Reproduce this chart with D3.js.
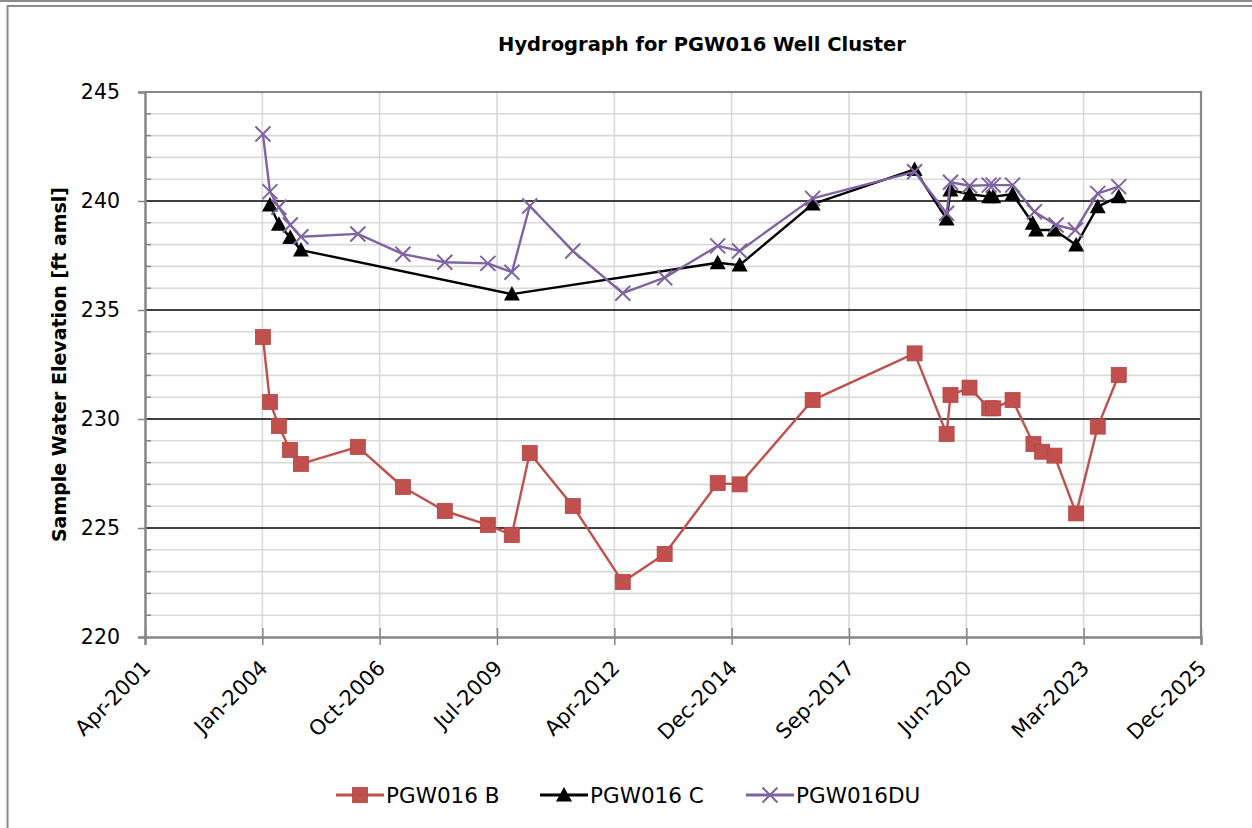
<!DOCTYPE html>
<html>
<head>
<meta charset="utf-8">
<script src="https://cdn.jsdelivr.net/npm/d3@7"></script>
<style>
  html, body { margin: 0; padding: 0; background: #fff; }
  svg { display: block; }
  text { font-family: "DejaVu Sans", "Liberation Sans", sans-serif; fill: #000; }
</style>
</head>
<body>
<svg id="chart" width="1252" height="828"></svg>
<script>
// ---- Data: sample water elevations (ft amsl) by sampling date ----
const bDates = ["2004-01-19","2004-03-19","2004-06-03","2004-09-05","2004-12-08","2006-04-07","2007-04-26",
  "2008-04-17","2009-04-19","2009-11-09","2010-04-11","2011-04-13","2012-06-12","2013-06-04","2014-08-30",
  "2015-03-05","2016-11-16","2019-04-04","2020-01-02","2020-02-04","2020-07-15","2020-12-30","2021-02-02",
  "2021-07-17","2022-01-11","2022-03-26","2022-07-09","2023-01-10","2023-07-13","2024-01-08"];
const bLevels = [233.76,230.78,229.68,228.58,227.94,228.72,226.88,
  225.78,225.14,224.68,228.44,226.01,222.52,223.81,227.06,
  227.0,230.87,233.01,229.31,231.1,231.44,230.49,230.49,
  230.87,228.85,228.5,228.32,225.67,229.65,232.02];

const cDates = ["2004-03-19","2004-06-03","2004-09-08","2004-12-08","2009-11-10","2014-08-30","2015-03-05",
  "2016-11-16","2019-04-04","2020-01-02","2020-02-04","2020-07-15","2020-12-30","2021-02-02","2021-07-17",
  "2022-01-05","2022-02-03","2022-07-09","2023-01-10","2023-07-13","2024-01-08"];
const cLevels = [239.82,238.93,238.32,237.75,235.73,237.17,237.06,
  239.86,241.45,239.17,240.5,240.31,240.2,240.2,240.31,
  238.98,238.67,238.67,237.98,239.74,240.2];

const duDates = ["2004-01-19","2004-03-19","2004-06-03","2004-09-08","2004-12-08","2006-04-07","2007-04-26",
  "2008-04-17","2009-04-19","2009-11-10","2010-04-11","2011-04-13","2012-06-12","2013-06-04","2014-08-30",
  "2015-03-05","2016-11-16","2019-04-04","2020-01-02","2020-02-04","2020-07-15","2020-12-30","2021-02-02",
  "2021-07-17","2022-01-19","2022-07-23","2023-01-04","2023-07-13","2024-01-08"];
const duLevels = [243.07,240.43,239.71,238.9,238.36,238.49,237.56,
  237.19,237.14,236.73,239.77,237.71,235.77,236.48,237.94,
  237.71,240.12,241.34,239.44,240.86,240.7,240.73,240.73,
  240.73,239.51,238.9,238.67,240.35,240.66];

const seriesNames = ["PGW016 B", "PGW016 C", "PGW016DU"];

// Date axis ticks every 1000 days
const xTickDates = ["2001-04-19","2004-01-14","2006-10-10","2009-07-06","2012-04-01",
  "2014-12-27","2017-09-22","2020-06-18","2023-03-15","2025-12-09"];
const yMajorTicks = [220, 225, 230, 235, 240, 245];
const yMinorTicks = d3.range(221, 245).filter(v => v % 5 !== 0);

const titleText = "Hydrograph for PGW016 Well Cluster";
const yAxisTitle = "Sample Water Elevation [ft amsl]";

// ---- Layout ----
const W = 1252, H = 828;
const plot = { left: 145, right: 1201, top: 92, bottom: 637 };
const parse = d3.utcParse("%Y-%m-%d");
const tickDates = xTickDates.map(parse);

const x = d3.scaleUtc()
  .domain([tickDates[0], tickDates[tickDates.length - 1]])
  .range([plot.left, plot.right]);
const y = d3.scaleLinear().domain([220, 245]).range([plot.bottom, plot.top]);

const svg = d3.select("#chart");
svg.append("rect").attr("width", W).attr("height", H).attr("fill", "#fff");

// outer frame
svg.append("line").attr("x1", 0).attr("x2", W).attr("y1", 1).attr("y2", 1)
  .attr("stroke", "#8c8c8c").attr("stroke-width", 2);
svg.append("path").attr("d", `M7.5,${H} V6 H${W}`)
  .attr("fill", "none").attr("stroke", "#8c8c8c").attr("stroke-width", 2);

// ---- Gridlines ----
const grid = svg.append("g");
grid.selectAll("line.minor").data(yMinorTicks).join("line")
  .attr("x1", plot.left).attr("x2", plot.right)
  .attr("y1", d => y(d)).attr("y2", d => y(d))
  .attr("stroke", "#d9d9d9").attr("stroke-width", 1.6);
grid.selectAll("line.vert").data(tickDates.slice(1, -1)).join("line")
  .attr("x1", d => x(d)).attr("x2", d => x(d))
  .attr("y1", plot.top).attr("y2", plot.bottom)
  .attr("stroke", "#d9d9d9").attr("stroke-width", 1.6);
grid.selectAll("line.major").data(yMajorTicks.slice(1, -1)).join("line")
  .attr("x1", plot.left).attr("x2", plot.right)
  .attr("y1", d => y(d)).attr("y2", d => y(d))
  .attr("stroke", "#000").attr("stroke-width", 1.7);

// plot border (top/right)
svg.append("path")
  .attr("d", `M${plot.left},${plot.top} H${plot.right} V${plot.bottom}`)
  .attr("fill", "none").attr("stroke", "#868686").attr("stroke-width", 2.2);

// ---- Axes ----
const yAxis = svg.append("g").attr("transform", `translate(${plot.left},0)`)
  .call(d3.axisLeft(y).tickValues(yMajorTicks).tickSize(7).tickPadding(18).tickFormat(d3.format("d")));
yAxis.select(".domain").attr("stroke", "#868686").attr("stroke-width", 2.5);
yAxis.selectAll(".tick line").attr("stroke", "#868686").attr("stroke-width", 1.5);
yAxis.selectAll(".tick text").attr("font-size", 20.5).attr("font-family", "DejaVu Sans").attr("fill", "#000");
yAxis.selectAll("line.minor-tick").data(yMinorTicks).join("line")
  .attr("x1", 0).attr("x2", 6).attr("y1", d => y(d)).attr("y2", d => y(d))
  .attr("stroke", "#868686").attr("stroke-width", 1.5);

const fmt = d3.utcFormat("%b-%Y");
const xAxis = svg.append("g").attr("transform", `translate(0,${plot.bottom})`)
  .call(d3.axisBottom(x).tickValues(tickDates).tickSize(8).tickFormat(fmt));
xAxis.select(".domain").attr("stroke", "#868686").attr("stroke-width", 2.5);
xAxis.selectAll(".tick line").attr("y1", -9).attr("y2", 8)
  .attr("stroke", "#868686").attr("stroke-width", 1.5);
xAxis.selectAll(".tick text")
  .attr("font-size", 21).attr("font-family", "DejaVu Sans").attr("fill", "#000")
  .attr("text-anchor", "end")
  .attr("dy", "0.35em").attr("y", 0)
  .attr("transform", "translate(1,27) rotate(-45)");

// ---- Titles ----
svg.append("text").attr("x", 702).attr("y", 51).attr("text-anchor", "middle")
  .attr("font-size", 19.5).attr("font-weight", "bold").text(titleText);
svg.append("text")
  .attr("transform", `translate(66,${(plot.top + plot.bottom) / 2}) rotate(-90)`)
  .attr("text-anchor", "middle").attr("font-size", 19).attr("font-weight", "bold")
  .text(yAxisTitle);

// ---- Series ----
const series = [
  { name: seriesNames[0], dates: bDates, values: bLevels, color: "#C0504D", marker: "square", width: 2.4 },
  { name: seriesNames[1], dates: cDates, values: cLevels, color: "#000000", marker: "triangle", width: 2.4 },
  { name: seriesNames[2], dates: duDates, values: duLevels, color: "#8064A2", marker: "cross", width: 2.4 }
];

function drawMarker(g, type, color) {
  if (type === "square") {
    g.append("rect").attr("x", -7.5).attr("y", -7.5).attr("width", 15).attr("height", 15)
      .attr("fill", color).attr("stroke", "#b8433f").attr("stroke-width", 0.8);
  } else if (type === "triangle") {
    g.append("path").attr("d", "M0,-8 L8,6.5 L-8,6.5 Z").attr("fill", color);
  } else {
    g.append("path").attr("d", "M-7.5,-7.5 L7.5,7.5 M-7.5,7.5 L7.5,-7.5")
      .attr("stroke", color).attr("stroke-width", 2).attr("fill", "none");
  }
}

const line = d3.line().x(d => x(d.date)).y(d => y(d.value));
series.forEach(s => {
  const pts = s.dates.map((d, i) => ({ date: parse(d), value: s.values[i] }));
  const g = svg.append("g");
  g.append("path").datum(pts).attr("d", line)
    .attr("fill", "none").attr("stroke", s.color).attr("stroke-width", s.width)
    .attr("stroke-linejoin", "round");
  g.selectAll("g.pt").data(pts).join("g")
    .attr("transform", d => `translate(${x(d.date)},${y(d.value)})`)
    .each(function () { drawMarker(d3.select(this), s.marker, s.color); });
});

// ---- Legend ----
const legendX = [336, 540, 746];
const legendY = 795;
series.forEach((s, i) => {
  const g = svg.append("g").attr("transform", `translate(${legendX[i]},${legendY})`);
  g.append("line").attr("x1", 0).attr("x2", 48).attr("y1", 0).attr("y2", 0)
    .attr("stroke", s.color).attr("stroke-width", 3);
  const m = g.append("g").attr("transform", "translate(24,0)");
  drawMarker(m, s.marker, s.color);
  g.append("text").attr("x", 50).attr("y", 0).attr("dy", "0.36em")
    .attr("font-size", 21.5).text(s.name);
});
</script>
</body>
</html>
